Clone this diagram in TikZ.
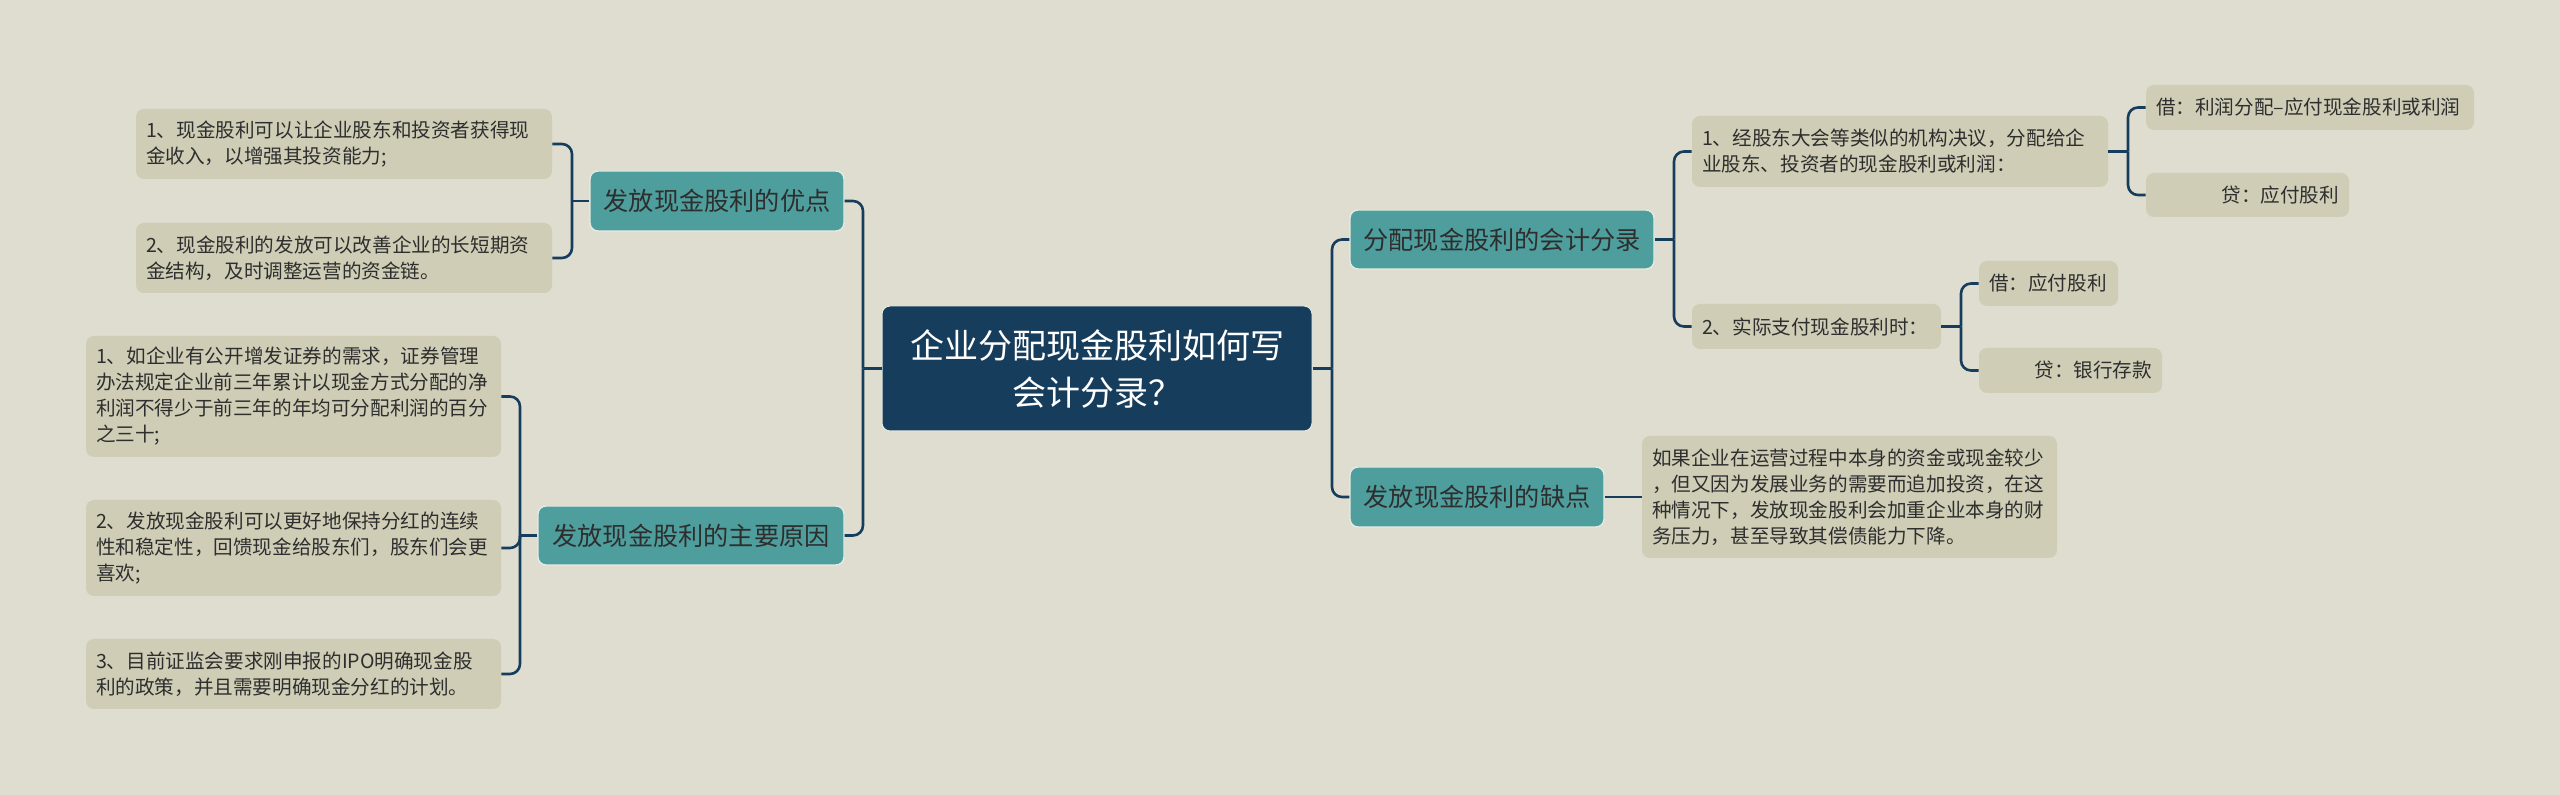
\documentclass[tikz,border=0pt]{standalone}
\usepackage{fontspec}
\setmainfont{Noto Sans CJK SC}
\definecolor{bgc}{HTML}{DFDDCF}
\definecolor{leafc}{HTML}{CFCDB6}
\definecolor{tealc}{HTML}{4E9E9D}
\definecolor{rootc}{HTML}{173D5C}
\definecolor{linec}{HTML}{173D5C}
\definecolor{textc}{HTML}{2E2E2E}
\definecolor{edgec}{HTML}{E4EBE3}
\tikzset{
  leaf/.style={fill=leafc, rounded corners=4pt, inner xsep=5pt, inner ysep=0pt,
    font=\fontsize{9.8pt}{13pt}\selectfont, align=left, text=textc, anchor=center},
  leafr/.style={leaf, align=right},
  mainbox/.style={fill=tealc, draw=edgec, line width=0.7pt, rounded corners=4pt,
    inner sep=0pt, font=\fontsize{12.6pt}{15pt}\selectfont, text=textc, align=center, anchor=center},
  rootbox/.style={fill=rootc, draw=edgec, line width=0.5pt, rounded corners=4pt,
    inner sep=0pt, font=\fontsize{17pt}{23.5pt}\selectfont, text=white, align=center, anchor=center},
  conn/.style={draw=linec, line width=1.3pt, rounded corners=5pt},
}
\begin{document}
\begin{tikzpicture}[x=0.5pt,y=-0.5pt]
\fill[bgc] (0,0) rectangle (2560,795);
\useasboundingbox (0,0) rectangle (2560,795);

% root
\node[rootbox, minimum width=215pt, minimum height=62.5pt] (root) at (1097,368.5)
  {企业分配现金股利如何写\\会计分录？};

% left mains
\node[mainbox, minimum width=127pt, minimum height=30pt] (mL1) at (717,201) {发放现金股利的优点};
\node[mainbox, minimum width=153pt, minimum height=29.5pt] (mL2) at (691,535.5) {发放现金股利的主要原因};

% right mains
\node[mainbox, minimum width=152pt, minimum height=29.5pt] (mR1) at (1502,239.5) {分配现金股利的会计分录};
\node[mainbox, minimum width=127pt, minimum height=30pt] (mR2) at (1477,497) {发放现金股利的缺点};

% left leaves
\node[leaf, text width=198pt, minimum height=35pt] (A1) at (344,144)
  {1、现金股利可以让企业股东和投资者获得现\\金收入，以增强其投资能力;};
\node[leaf, text width=198pt, minimum height=35pt] (A2) at (344,258)
  {2、现金股利的发放可以改善企业的长短期资\\金结构，及时调整运营的资金链。};
\node[leaf, text width=197.5pt, minimum height=60.5pt] (B1) at (293.5,396.5)
  {1、如企业有公开增发证券的需求，证券管理\\办法规定企业前三年累计以现金方式分配的净\\利润不得少于前三年的年均可分配利润的百分\\之三十;};
\node[leaf, text width=197.5pt, minimum height=48pt] (B2) at (293.5,548)
  {2、发放现金股利可以更好地保持分红的连续\\性和稳定性，回馈现金给股东们，股东们会更\\喜欢;};
\node[leaf, text width=197.5pt, minimum height=35pt] (B3) at (293.5,674)
  {3、目前证监会要求刚申报的IPO明确现金股\\利的政策，并且需要明确现金分红的计划。};

% right leaves
\node[leaf, text width=198pt, minimum height=35.5pt] (R1) at (1900,151.5)
  {1、经股东大会等类似的机构决议，分配给企\\业股东、投资者的现金股利或利润：};
\node[leaf, text width=114.5pt, minimum height=22.5pt] (R2) at (1816.5,326.5)
  {2、实际支付现金股利时：};
\node[leaf, text width=154pt, minimum height=22.5pt] (R1a) at (2310,107.5)
  {借：利润分配–应付现金股利或利润};
\node[leafr, text width=91.5pt, minimum height=22pt] (R1b) at (2247.5,195)
  {贷：应付股利};
\node[leaf, text width=59.5pt, minimum height=22.5pt] (R2a) at (2048.5,283.5)
  {借：应付股利};
\node[leafr, text width=81.5pt, minimum height=22.5pt] (R2b) at (2070.5,370.5)
  {贷：银行存款};
\node[leaf, text width=197.5pt, minimum height=61pt] (D) at (1849.5,497)
  {如果企业在运营过程中本身的资金或现金较少\\，但又因为发展业务的需要而追加投资，在这\\种情况下，发放现金股利会加重企业本身的财\\务压力，甚至导致其偿债能力下降。};

% junction coordinates
\coordinate (jL) at (863,368.5);
\coordinate (jR) at (1332,368.5);
\coordinate (jL1) at (572,201);
\coordinate (jL2) at (520,535.5);
\coordinate (jR1) at (1674,239.5);
\coordinate (jR11) at (2128,151.5);
\coordinate (jR12) at (1961,326.5);

% connectors
\draw[conn] (root.west) -- (jL);
\draw[conn] (jL) |- (mL1.east);
\draw[conn] (jL) |- (mL2.east);
\draw[conn] (root.east) -- (jR);
\draw[conn] (jR) |- (mR1.west);
\draw[conn] (jR) |- (mR2.west);

\draw[conn] (mL1.west) -- (jL1);
\draw[conn] (jL1) |- (A1.east);
\draw[conn] (jL1) |- (A2.east);

\draw[conn] (mL2.west) -- (jL2);
\draw[conn] (jL2) |- (B1.east);
\draw[conn] (jL2) |- (B2.east);
\draw[conn] (jL2) |- (B3.east);

\draw[conn] (mR1.east) -- (jR1);
\draw[conn] (jR1) |- (R1.west);
\draw[conn] (jR1) |- (R2.west);

\draw[conn] (R1.east) -- (jR11);
\draw[conn] (jR11) |- (R1a.west);
\draw[conn] (jR11) |- (R1b.west);

\draw[conn] (R2.east) -- (jR12);
\draw[conn] (jR12) |- (R2a.west);
\draw[conn] (jR12) |- (R2b.west);

\draw[conn] (mR2.east) -- (D.west);
\end{tikzpicture}
\end{document}
